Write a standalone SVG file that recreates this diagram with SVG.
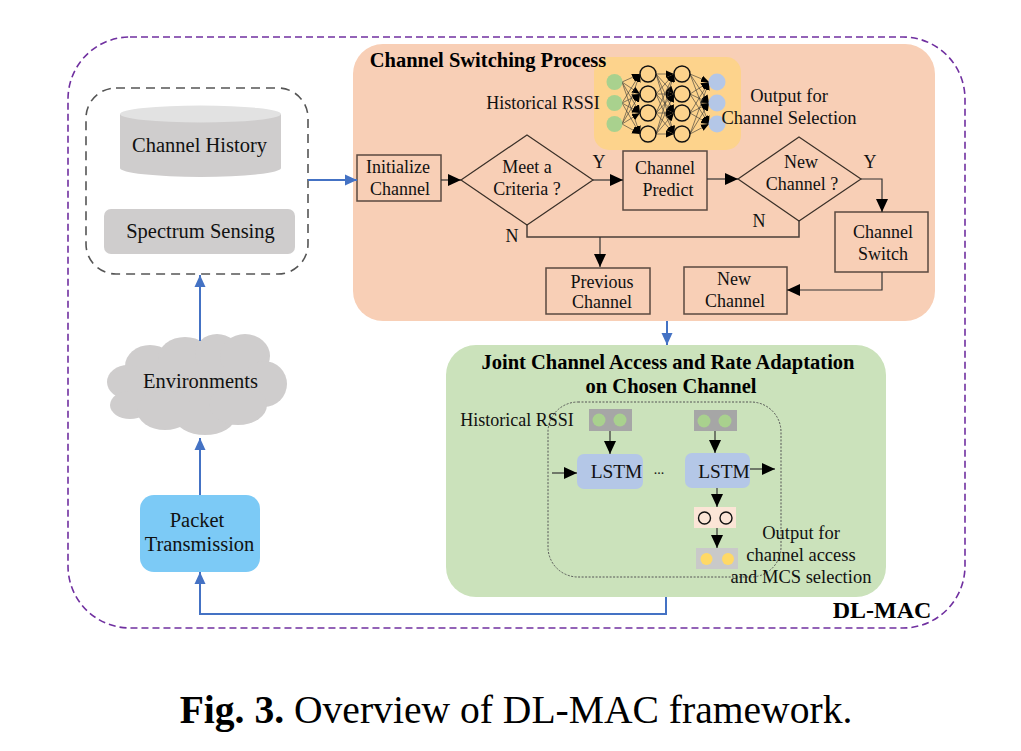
<svg xmlns="http://www.w3.org/2000/svg" width="1021" height="751" viewBox="0 0 1021 751">
<defs>
<marker id="blk" markerUnits="userSpaceOnUse" markerWidth="14" markerHeight="14" refX="13" refY="7" orient="auto"><path d="M0 1L13 7L0 13Z" fill="#000"/></marker>
<marker id="blu" markerUnits="userSpaceOnUse" markerWidth="13" markerHeight="13" refX="12" refY="6.500" orient="auto"><path d="M0 1L12 6.500L0 12Z" fill="#4472c4"/></marker>
<marker id="sm" markerUnits="userSpaceOnUse" markerWidth="9" markerHeight="8" refX="8" refY="4" orient="auto"><path d="M0 0.5L8 4L0 7.5Z" fill="#000"/></marker>
</defs>
<style>
text{font-family:"Liberation Serif","Times New Roman",serif;font-size:18px;fill:#111;text-anchor:middle}
.b{font-weight:bold;fill:#000}
.t{font-size:20.500px}
.o{font-size:18.500px}
.s{font-size:18px}
.j{font-size:20.500px}
.box{fill:none;stroke:#5a4a40;stroke-width:1.5}
.dia{fill:none;stroke:#3a3028;stroke-width:1.2}
.k{fill:none;stroke:#4a3f38;stroke-width:1.5}
.ka{fill:none;stroke:#333;stroke-width:1.2;marker-end:url(#blk)}
.bl{fill:none;stroke:#4472c4;stroke-width:2;marker-end:url(#blu)}
.nn line{stroke:#333;stroke-width:.6;marker-end:url(#sm)}
.h{fill:none;stroke:#111;stroke-width:1.400}
.g{fill:#a9d18e}
.p{fill:#b4c7e7}
.y{fill:#ffd966}
.l{fill:#b4c7e7}
</style>
<rect width="1021" height="751" fill="#fff"/>
<g id="dlmac">
<rect x="68" y="37" width="897" height="591" rx="62" fill="none" stroke="#7030a0" stroke-width="1.600" stroke-dasharray="7 4"/>
<text class="b" x="882" y="618" style="font-size:24px">DL-MAC</text>
</g>
<g id="channel-switching-panel">
<rect x="353" y="44" width="582" height="277" rx="30" fill="#f8cfb6"/>
<rect x="594" y="57" width="147" height="93" rx="15" fill="#fdd38c"/>
<text class="b t" x="488" y="67">Channel Switching Process</text>
<text class="s" x="543" y="109">Historical RSSI</text>
<text class="o" x="789" y="102">Output for</text>
</g>
<g id="neural-network">
<g class="nn">
<line x1="622" y1="82" x2="640" y2="74"/><line x1="622" y1="82" x2="640" y2="94"/><line x1="622" y1="82" x2="640" y2="113"/><line x1="622" y1="82" x2="640" y2="134"/>
<line x1="622" y1="103" x2="640" y2="74"/><line x1="622" y1="103" x2="640" y2="94"/><line x1="622" y1="103" x2="640" y2="113"/><line x1="622" y1="103" x2="640" y2="134"/>
<line x1="622" y1="124" x2="640" y2="74"/><line x1="622" y1="124" x2="640" y2="94"/><line x1="622" y1="124" x2="640" y2="113"/><line x1="622" y1="124" x2="640" y2="134"/>
<line x1="656" y1="74" x2="674" y2="74"/><line x1="656" y1="74" x2="674" y2="94"/><line x1="656" y1="74" x2="674" y2="113"/><line x1="656" y1="74" x2="674" y2="134"/>
<line x1="656" y1="94" x2="674" y2="74"/><line x1="656" y1="94" x2="674" y2="94"/><line x1="656" y1="94" x2="674" y2="113"/><line x1="656" y1="94" x2="674" y2="134"/>
<line x1="656" y1="113" x2="674" y2="74"/><line x1="656" y1="113" x2="674" y2="94"/><line x1="656" y1="113" x2="674" y2="113"/><line x1="656" y1="113" x2="674" y2="134"/>
<line x1="656" y1="134" x2="674" y2="74"/><line x1="656" y1="134" x2="674" y2="94"/><line x1="656" y1="134" x2="674" y2="113"/><line x1="656" y1="134" x2="674" y2="134"/>
<line x1="690" y1="74" x2="709" y2="82"/><line x1="690" y1="74" x2="709" y2="103"/><line x1="690" y1="74" x2="709" y2="124"/>
<line x1="690" y1="94" x2="709" y2="82"/><line x1="690" y1="94" x2="709" y2="103"/><line x1="690" y1="94" x2="709" y2="124"/>
<line x1="690" y1="113" x2="709" y2="82"/><line x1="690" y1="113" x2="709" y2="103"/><line x1="690" y1="113" x2="709" y2="124"/>
<line x1="690" y1="134" x2="709" y2="82"/><line x1="690" y1="134" x2="709" y2="103"/><line x1="690" y1="134" x2="709" y2="124"/>
</g>
<circle class="g" cx="614.500" cy="82" r="8"/><circle class="g" cx="614.500" cy="103" r="8"/><circle class="g" cx="614.500" cy="124" r="8"/>
<circle class="h" cx="648" cy="74" r="8"/><circle class="h" cx="648" cy="94" r="8"/><circle class="h" cx="648" cy="113" r="8"/><circle class="h" cx="648" cy="134" r="8"/>
<circle class="h" cx="682" cy="74" r="8"/><circle class="h" cx="682" cy="94" r="8"/><circle class="h" cx="682" cy="113" r="8"/><circle class="h" cx="682" cy="134" r="8"/>
<circle class="p" cx="717" cy="82" r="8.500"/><circle class="p" cx="717" cy="103" r="8.500"/><circle class="p" cx="717" cy="124" r="8.500"/>
<text class="o" x="789" y="124">Channel Selection</text>
</g>
<g id="data-sources">
<rect x="86" y="88" width="222" height="186" rx="30" fill="#fff" stroke="#555" stroke-width="1.600" stroke-dasharray="9 6"/>
</g>
<g id="channel-history">
<path d="M120 114V168A80.500 9 0 0 0 281 168V114Z" fill="#cfcdcd"/>
<ellipse cx="200.500" cy="114" rx="80.500" ry="8.500" fill="#e2e2e2"/>
<text class="t" x="199.500" y="152">Channel History</text>
</g>
<g id="spectrum-sensing">
<rect x="104" y="209" width="191" height="45" rx="7" fill="#cfcdcd"/>
<text class="t" x="200.500" y="238">Spectrum Sensing</text>
</g>
<g id="environments">
<g fill="#cfcdcd">
<ellipse cx="198" cy="385" rx="72" ry="38"/>
<ellipse cx="150" cy="366" rx="25" ry="21"/>
<ellipse cx="185" cy="358" rx="27" ry="21"/>
<ellipse cx="217" cy="354" rx="22" ry="20"/>
<ellipse cx="245" cy="356" rx="25" ry="22"/>
<ellipse cx="264" cy="384" rx="23" ry="23"/>
<ellipse cx="128" cy="382" rx="21" ry="17"/>
<ellipse cx="130" cy="405" rx="20" ry="14"/>
<ellipse cx="165" cy="410" rx="28" ry="20"/>
<ellipse cx="205" cy="417" rx="30" ry="18"/>
<ellipse cx="238" cy="405" rx="29" ry="20"/>
</g>
<text class="t" x="200.500" y="388">Environments</text>
</g>
<g id="packet-transmission">
<rect x="140" y="495" width="120" height="77" rx="14" fill="#7ccaf6"/>
<text class="t" x="197" y="527">Packet</text>
<text class="t" x="199.500" y="551">Transmission</text>
</g>
<g id="initialize-channel">
<rect class="box" x="357" y="155" width="84" height="46"/>
<text class="s" x="398" y="173">Initialize</text>
<text class="s" x="400" y="195">Channel</text>
</g>
<g id="meet-criteria">
<path class="dia" d="M527 135L593 180L527 225L461 180Z"/>
<text class="s" x="527" y="173">Meet a</text>
<text class="s" x="527" y="195">Criteria ?</text>
</g>
<g id="channel-predict">
<rect class="box" x="623" y="151" width="84" height="59"/>
<text class="s" x="665" y="174">Channel</text>
<text class="s" x="668" y="196">Predict</text>
</g>
<g id="new-channel-q">
<path class="dia" d="M799 137L861 179L799 221L738 179Z"/>
<text class="s" x="801" y="168">New</text>
<text class="s" x="802" y="190">Channel ?</text>
</g>
<g id="channel-switch">
<rect class="box" x="835" y="212" width="93" height="60"/>
<text class="s" x="883" y="238">Channel</text>
<text class="s" x="883" y="260">Switch</text>
</g>
<g id="new-channel">
<rect class="box" x="684" y="267" width="103" height="47"/>
<text class="s" x="734" y="285">New</text>
<text class="s" x="735" y="307">Channel</text>
</g>
<g id="previous-channel">
<rect class="box" x="546" y="268" width="104" height="46"/>
<text class="s" x="602" y="288">Previous</text>
<text class="s" x="602" y="308">Channel</text>
</g>
<g id="joint-access-panel">
<rect x="446" y="345" width="440" height="252" rx="30" fill="#cbe2bb"/>
<text class="b j" x="668" y="369">Joint Channel Access and Rate Adaptation</text>
<text class="b j" x="671" y="393">on Chosen Channel</text>
<rect x="548" y="402" width="233" height="175" rx="30" fill="none" stroke="#555" stroke-width="1" stroke-dasharray="2 1.500"/>
<text class="s" x="517" y="426">Historical RSSI</text>
<text x="659" y="474" style="font-size:14px">...</text>
</g>
<g id="input-1">
<rect x="589" y="409" width="43" height="22" fill="#a6a6a6"/>
<circle class="g" cx="599" cy="420" r="6.500"/><circle class="g" cx="620" cy="420" r="6.500"/>
</g>
<g id="input-2">
<rect x="694" y="410" width="43" height="21" fill="#a6a6a6"/>
<circle class="g" cx="704" cy="421" r="6.500"/><circle class="g" cx="725" cy="421" r="6.500"/>
</g>
<g id="lstm-1">
<rect class="l" x="577" y="454" width="66" height="35" rx="7"/>
<text x="616.500" y="478" style="font-size:19.400px">LSTM</text>
</g>
<g id="lstm-2">
<rect class="l" x="685" y="453" width="65" height="35" rx="7"/>
<text x="724" y="478" style="font-size:19.400px">LSTM</text>
</g>
<g id="lstm-output">
<rect x="694" y="507" width="42" height="21" fill="#fbe5d6"/>
<circle class="h" cx="704.500" cy="518" r="6"/><circle class="h" cx="726" cy="518" r="6"/>
</g>
<g id="final-output">
<rect x="696" y="548" width="42" height="21" fill="#c9c9c9"/>
<circle class="y" cx="706.500" cy="559" r="6"/><circle class="y" cx="728" cy="559" r="6"/>
</g>
<g id="output-label">
<text class="o" x="801" y="539">Output for</text>
<text class="o" x="801" y="561">channel access</text>
<text class="o" x="801" y="583">and MCS selection</text>
</g>
<g id="connectors">
<path class="bl" d="M308 180H357"/>
<path class="bl" d="M667 321V345"/>
<path class="bl" d="M200 341V275"/>
<path class="bl" d="M200 495V438"/>
<path class="bl" d="M666 597V614H200V572"/>
<path class="ka" d="M441 180H461"/>
<path class="ka" d="M593 180H623"/>
<path class="ka" d="M707 179H738"/>
<path class="ka" d="M861 179H882V212"/>
<path class="k" d="M527 225V237H799V221"/>
<path class="ka" d="M600 237V267"/>
<path class="ka" d="M882 272V290H787"/>
<path class="ka" d="M610 431V454"/>
<path class="ka" d="M715 431V453"/>
<path class="ka" d="M552 473H577"/>
<path class="ka" d="M750 469H775"/>
<path class="ka" d="M717 488V507"/>
<path class="ka" d="M717 528V548"/>
</g>
<g id="edge-labels">
<text class="s" x="599" y="168">Y</text>
<text class="s" x="512" y="242">N</text>
<text class="s" x="870" y="168">Y</text>
<text class="s" x="759" y="227">N</text>
</g>
<g id="caption">
<text x="516" y="723" style="font-size:39.600px;fill:#000"><tspan font-weight="bold">Fig. 3.</tspan> Overview of DL-MAC framework.</text>
</g>
</svg>
